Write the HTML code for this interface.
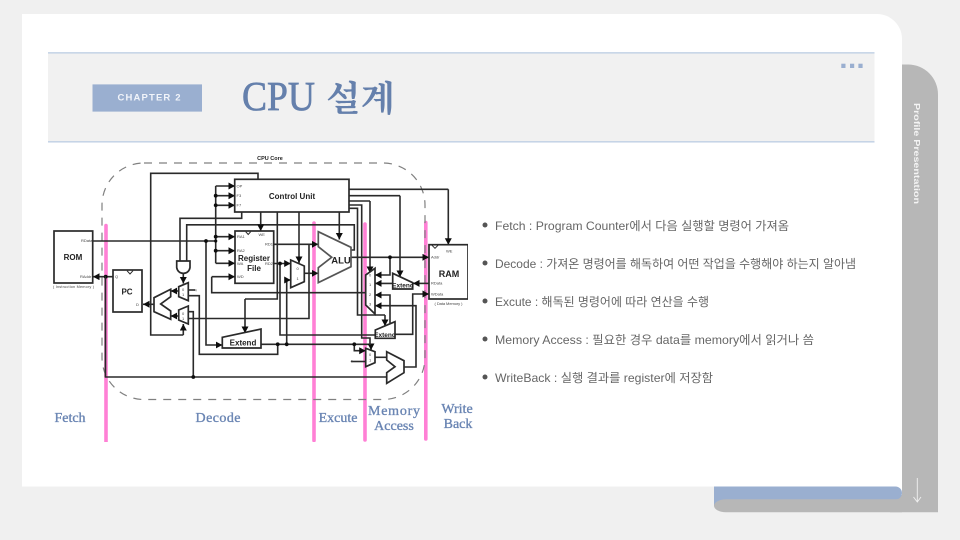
<!DOCTYPE html>
<html><head><meta charset="utf-8"><style>
html,body{margin:0;padding:0;background:#f0f0f0}
svg{display:block}
.w{fill:none;stroke:#2a2a2a;stroke-width:1.6;marker-end:url(#a)}
.n{fill:none;stroke:#2a2a2a;stroke-width:1.6}
.b{fill:#fff;stroke:#2a2a2a;stroke-width:1.7}
.g{fill:#fff;stroke:#555;stroke-width:1.7}
.lb{font-family:"Liberation Sans",sans-serif;font-weight:700;fill:#222;text-anchor:middle}
.p{font-family:"Liberation Sans",sans-serif;font-size:4px;fill:#444}
.ph{font-family:"Liberation Serif","Noto Serif CJK SC",serif;font-weight:400;font-size:14px;fill:#6a85b3;stroke:#6a85b3;stroke-width:.35;text-anchor:middle}
.t{font-family:"Liberation Sans","Noto Sans CJK KR",sans-serif;font-size:12px;fill:#666}
</style></head><body>
<svg width="960" height="540" viewBox="0 0 960 540" xmlns="http://www.w3.org/2000/svg">
<defs><marker id="a" markerUnits="userSpaceOnUse" markerWidth="8" markerHeight="8" refX="6.500" refY="3.500" orient="auto"><path d="M0,0L6.500,3.500L0,7Z" fill="#111"/></marker>
<filter id="s" x="0" y="0" width="100%" height="100%"><feGaussianBlur stdDeviation="0.35"/></filter></defs>
<rect width="960" height="540" fill="#f0f0f0"/>
<!-- tab -->
<path d="M890,64.500H908A30,30 0 0 1 938,94.500V512.300H890Z" fill="#b7b7b7"/>
<!-- card -->
<path d="M22,14H877A25,25 0 0 1 902,39V495H714V486.500H22Z" fill="#fff"/>
<!-- roll -->
<path d="M714,486.500H895.500A6.500,6.500 0 0 1 895.500,499.500H730V506H714Z" fill="#9aafd0"/>
<path d="M726,499.300H902V512.300H726A12,6.500 0 0 1 726,499.300Z" fill="#b7b7b7"/>
<path d="M917.300,478V501.500M913.500,497L917.300,502L921,497" fill="none" stroke="#f0f0f0" stroke-width="0.9"/>
<text transform="translate(914 103) rotate(90)" font-family="Liberation Sans,sans-serif" font-weight="700" font-size="8.500" fill="#f4f4f4" textLength="101" lengthAdjust="spacingAndGlyphs">Profile Presentation</text>
<!-- header -->
<rect x="48" y="53" width="826.500" height="89" fill="#f1f1f1"/>
<rect x="48" y="52.200" width="826.500" height="1.300" fill="#bccde3"/>
<rect x="48" y="141.200" width="826.500" height="1.300" fill="#bccde3"/>
<rect x="841.300" y="63.700" width="4.200" height="4.300" fill="#9aafd0"/>
<rect x="850" y="63.700" width="4.200" height="4.300" fill="#9aafd0"/>
<rect x="858.400" y="63.700" width="4.200" height="4.300" fill="#9aafd0"/>
<rect x="92.500" y="84.400" width="109.500" height="27.200" fill="#9aafd0"/>
<text x="117.500" y="100.500" font-family="Liberation Sans,sans-serif" font-weight="700" font-size="9.500" fill="#f1f4fa" textLength="63" lengthAdjust="spacing">CHAPTER 2</text>
<text x="242" y="110" font-family="Liberation Serif,serif" font-size="41" fill="#6580ac" stroke="#6580ac" stroke-width=".7" textLength="73" lengthAdjust="spacingAndGlyphs">CPU</text>
<text x="326" y="111" font-family="Noto Serif CJK SC,serif" font-size="35" font-weight="700" fill="#6580ac" textLength="69" lengthAdjust="spacingAndGlyphs">설계</text>
<g filter="url(#s)">
<!-- pink -->
<g stroke="#ff80d5" stroke-width="3.600" stroke-linecap="round">
<path d="M106,225.500V442M314,223V440.500M365,224V440M425.800,222.500V439"/></g>
<!-- dashed -->
<rect x="102" y="163" width="323" height="236.500" rx="42" fill="none" stroke="#808080" stroke-width="1.200" stroke-dasharray="8 7"/>
<text class="lb" x="270" y="160" font-size="5.500">CPU Core</text>
<!-- wires -->
<path class="n" d="M258,179V173.300H150.700V335H183.300"/>
<path class="w" d="M183.300,335V324"/>
<path class="n" d="M92.700,241H215.700M215.700,186V263.300"/>
<path class="w" d="M215.700,186H235"/><path class="w" d="M215.700,195.700H235"/><path class="w" d="M215.700,205.300H235"/>
<path class="w" d="M215.700,236.700H235"/><path class="w" d="M215.700,250.700H235"/><path class="w" d="M215.700,263.300H235"/>
<path class="w" d="M206,241V345H222.300"/>
<path class="n" d="M241.700,212V218.300H180V261"/>
<path class="n" d="M186.700,261V224.800H354.300V250H351"/>
<path class="w" d="M183.300,274V283.500"/>
<path class="w" d="M178.700,291H170.700"/>
<path class="n" d="M188.300,290H195"/>
<path class="w" d="M178.700,316H170.700"/>
<path class="w" d="M154,304.300H143"/>
<path class="w" d="M113,276.700H93"/>
<path class="n" d="M188.300,295.700H199.300V354.300H277.700V344"/>
<path class="n" d="M261,344.300H371"/>
<path class="w" d="M371,344.300V350"/>
<path class="w" d="M354.300,344.300V350.700H365.700"/>
<path class="n" d="M351,361.500H365.700"/>
<path class="n" d="M105.500,276.700V377H386.700"/>
<path class="n" d="M193.300,377V311.700H188.300"/>
<path class="n" d="M188.300,318.500H309V244.300"/>
<path class="w" d="M273.700,244.300H318.300"/>
<path class="w" d="M304.300,273.300H318.300"/>
<path class="w" d="M273.700,263.500H290.700"/>
<path class="w" d="M286.700,344.300V280H290.700"/>
<path class="n" d="M280,263.500V335H375.300"/>
<path class="n" d="M349,189.300H448.300"/><path class="w" d="M448.300,189.300V244.700"/>
<path class="n" d="M349,195.700H400"/><path class="w" d="M400,195.700V277"/>
<path class="n" d="M349,201H370"/><path class="w" d="M370,201V273"/>
<path class="n" d="M349,205H361.700V338H370V345"/>
<path class="n" d="M349,208.300H357.500V315H385"/><path class="w" d="M385,315V326"/>
<path class="w" d="M260.700,212V231"/>
<path class="n" d="M277.300,212V299H245"/><path class="w" d="M245,299V333"/>
<path class="w" d="M299,212V263"/>
<path class="w" d="M339.300,212V239.500"/>
<path class="n" d="M211.700,276.700V292.700H365.700"/>
<path class="w" d="M211.700,276.700H235"/>
<path class="w" d="M351,257.300H429"/>
<path class="w" d="M390,257.300V275H375"/>
<path class="w" d="M393,283.400H375"/>
<path class="w" d="M429,283.400H413"/>
<path class="w" d="M390,323V295H375"/>
<path class="w" d="M404,367H416V305.700H375"/>
<path class="w" d="M395,334.300H412.700V294H429"/>
<path class="n" d="M375,357.300H386.700"/>
<!-- dots -->
<g fill="#111"><circle cx="105.700" cy="276.700" r="1.900"/><circle cx="206" cy="241" r="1.900"/><circle cx="215.700" cy="241" r="1.600"/><circle cx="215.700" cy="195.700" r="1.900"/><circle cx="215.700" cy="205.300" r="1.900"/><circle cx="215.700" cy="236.700" r="1.900"/><circle cx="215.700" cy="250.700" r="1.900"/><circle cx="280" cy="263.500" r="1.900"/><circle cx="286" cy="263.500" r="1.600"/><circle cx="390" cy="257.300" r="1.900"/><circle cx="193.300" cy="377" r="1.900"/><circle cx="277.700" cy="344.300" r="1.900"/><circle cx="286.700" cy="344.300" r="1.900"/><circle cx="354.300" cy="344.300" r="1.900"/></g>
<path d="M105.300,276V377" stroke="#2a2a2a" stroke-width="1.200"/>
<!-- blocks -->
<rect class="b" x="54" y="231" width="38.700" height="52"/>
<rect class="b" x="113" y="270" width="29" height="42"/>
<rect class="b" x="234.700" y="179.300" width="114.300" height="32.700"/>
<rect class="b" x="235" y="231" width="38.700" height="52.300"/>
<rect class="b" x="429" y="244.700" width="39" height="54.300"/>
<path class="n" d="M127,270.700L130,274L133,270.700M245.700,231.700L248.200,234.500L250.700,231.700M432,245.300L435,248.300L438,245.300" style="stroke-width:1"/>
<polygon class="g" points="318.300,231.700 351,247.300 351,266.700 318.300,282.700 318.300,267.700 331.700,257.300 318.300,246.700"/>
<polygon class="b" points="290.700,260 304.300,266 304.300,281.700 290.700,287.700"/>
<polygon class="b" points="365.700,275 375,268.300 375,314 365.700,305"/>
<polygon class="b" points="392.700,273.300 412.700,282.700 412.700,289 392.700,289"/>
<polygon class="b" points="375.300,330 395,321.700 395,338.300 375.300,338.300"/>
<polygon class="b" points="365.700,348.300 375,351.700 375,362.700 365.700,366.700"/>
<polygon class="b" points="386.700,351.700 404,360.700 404,372.700 386.700,383.300 386.700,372.700 395,366.700 386.700,360"/>
<polygon class="b" points="178.700,286.700 188.300,282.700 188.300,300.700 178.700,296.700"/>
<polygon class="b" points="178.700,310 188.300,306 188.300,324 178.700,320"/>
<polygon class="b" points="170.700,289.300 154,297.700 154,311.700 170.700,319.300 170.700,311 160.700,304 170.700,296.700"/>
<polygon class="b" points="222.300,337.300 261,329 261,348 222.300,348"/>
<path class="b" d="M176.700,261H190V267.500A6.700,6.700 0 0 1 176.700,267.500Z"/>
<!-- labels -->
<text class="lb" x="73" y="260" font-size="8">ROM</text>
<text class="lb" x="127" y="294.500" font-size="8">PC</text>
<text class="lb" x="292" y="199" font-size="8">Control Unit</text>
<text class="lb" x="254" y="261" font-size="8">Register</text>
<text class="lb" x="254" y="271" font-size="8">File</text>
<text class="lb" x="341" y="263.500" font-size="9.500">ALU</text>
<text class="lb" x="449" y="277" font-size="9">RAM</text>
<text class="lb" x="243" y="345.500" font-size="8">Extend</text>
<text class="lb" x="403" y="287.500" font-size="6.500">Extend</text>
<text class="lb" x="385" y="336.800" font-size="6.500">Extend</text>
<g class="p">
<text x="81" y="242">RData</text><text x="80" y="278">RAddr</text><text x="115" y="278">Q</text><text x="136" y="306">D</text>
<text x="236.500" y="187.500">OP</text><text x="236.500" y="197">F3</text><text x="236.500" y="206.500">F7</text>
<text x="237" y="238">RA1</text><text x="237" y="252">RA2</text><text x="237" y="265">WA</text><text x="237" y="278">WD</text>
<text x="258.500" y="236">WE</text><text x="265" y="245.500">RD1</text><text x="265" y="265">RD2</text>
<text x="431" y="258.500">Addr</text><text x="431" y="284.500">RData</text><text x="431" y="295.500">WData</text><text x="446" y="252.500">WE</text>
<text x="296.500" y="270">0</text><text x="296.500" y="280">1</text>
<text x="369" y="276.500">0</text><text x="369" y="286">1</text><text x="369" y="296">2</text><text x="369" y="305.500">3</text>
<text x="369" y="356">0</text><text x="369" y="361.500">1</text><text x="350.500" y="362.500">4</text>
<text x="182" y="291">0</text><text x="182" y="296">1</text><text x="194.500" y="291.500">4</text>
<text x="182" y="315">0</text><text x="182" y="320">1</text>
<text x="53" y="288" font-size="3.800" textLength="41">( Instruction Memory )</text>
<text x="434.500" y="305" textLength="28">( Data Memory )</text>
</g>
</g>
<!-- phases -->
<text class="ph" x="70" y="422">Fetch</text>
<text class="ph" x="218" y="422" textLength="45">Decode</text>
<text class="ph" x="338" y="422">Excute</text>
<text class="ph" x="394" y="415" textLength="52">Memory</text>
<text class="ph" x="394" y="430">Access</text>
<text class="ph" x="457" y="413">Write</text>
<text class="ph" x="458" y="428">Back</text>
<!-- bullets -->
<g fill="#555"><circle cx="485" cy="225" r="2.500"/><circle cx="485" cy="263" r="2.500"/><circle cx="485" cy="301" r="2.500"/><circle cx="485" cy="339" r="2.500"/><circle cx="485" cy="377" r="2.500"/></g>
<text class="t" x="495" y="230" textLength="294" lengthAdjust="spacingAndGlyphs">Fetch : Program Counter에서 다음 실행할 명령어 가져옴</text>
<text class="t" x="495" y="268" textLength="361" lengthAdjust="spacingAndGlyphs">Decode : 가져온 명령어를 해독하여 어떤 작업을 수행해야 하는지 알아냄</text>
<text class="t" x="495" y="306" textLength="214" lengthAdjust="spacingAndGlyphs">Excute : 해독된 명령어에 따라 연산을 수행</text>
<text class="t" x="495" y="344" textLength="319" lengthAdjust="spacingAndGlyphs">Memory Access : 필요한 경우 data를 memory에서 읽거나 씀</text>
<text class="t" x="495" y="382" textLength="218" lengthAdjust="spacingAndGlyphs">WriteBack : 실행 결과를 register에 저장함</text>
</svg>
</body></html>
